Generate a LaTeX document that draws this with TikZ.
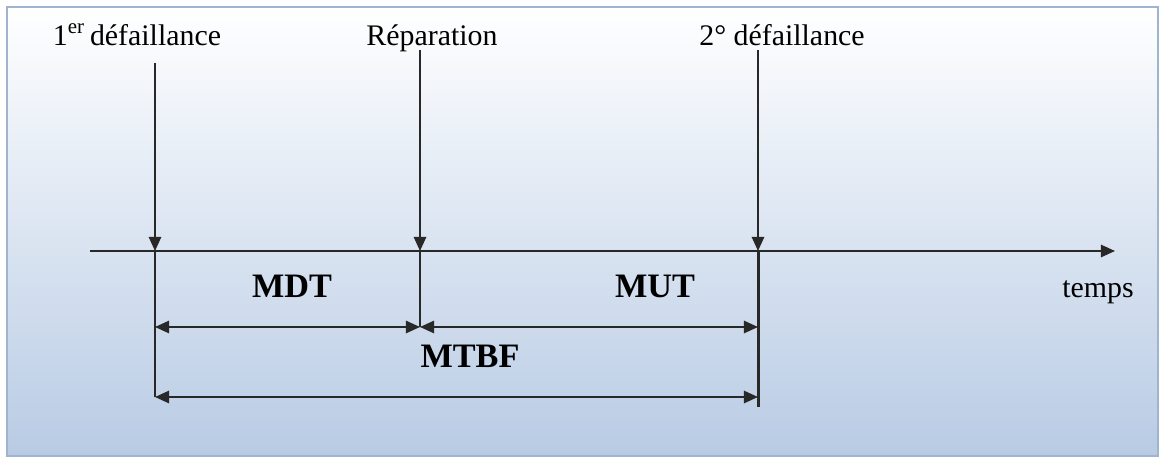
\documentclass[tikz,border=0pt]{standalone}
\usepackage{fontspec}
\setmainfont{Liberation Serif}
\usepackage{tikz}
\usetikzlibrary{arrows.meta,positioning}
\definecolor{cadre}{RGB}{160,180,205}
\definecolor{fondhaut}{RGB}{255,255,255}
\definecolor{fondbas}{RGB}{184,203,228}
\definecolor{trait}{RGB}{40,40,40}

\begin{document}
\begin{tikzpicture}[x=0.02cm,y=-0.02cm,
  axe/.style={line width=1.1pt,trait},
  fleche/.style={axe,-{Triangle[length=8pt,width=7pt]}},
  cote/.style={axe,{Triangle[length=8pt,width=7pt]}-{Triangle[length=8pt,width=7pt]}},
  evt/.style={font=\fontsize{17}{20}\selectfont,anchor=base},
  duree/.style={font=\fontsize{19.5}{22}\selectfont\bfseries}]
  \useasboundingbox (0,0) rectangle (1167,460);
  \shade[top color=fondhaut,bottom color=fondbas,draw=cadre,line width=1.2pt] (7,7) rectangle (1158,456);
  % axe des temps
  \coordinate (t0) at (90,251); \coordinate (tfin) at (1115,251);
  \draw[fleche] (t0) -- (tfin);
  \foreach \n/\x/\h in {d1/155/63,rep/420/50,d2/758/50} {\coordinate (\n) at (\x,251); \coordinate (\n haut) at (\x,\h); \draw[fleche] (\n haut) -- (\n);}
  % evenements
  \node[evt] (lbd1) at (137,45) {1\textsuperscript{er}\,défaillance};
  \node[evt] (lbrep) at (432,45) {Réparation};
  \node[evt] (lbd2) at (782,45) {2° défaillance};
  \coordinate (d1bas) at (155,397); \coordinate (repbas) at (420,327); \coordinate (d2bas) at (758,407);
  \draw[axe] (d1) -- (d1bas); \draw[axe] (rep) -- (repbas); \draw[axe,line width=1.7pt] (d2) -- (d2bas);
  % durees
  \draw[cote] (d1 |- repbas) -- (repbas);
  \draw[cote] (repbas) -- (d2 |- repbas);
  \draw[cote] (d1bas) -- (d2 |- d1bas);
  \node[duree] (mdt) at (292,286) {MDT};
  \node[duree] (mut) at (655,286) {MUT};
  \node[duree] (mtbf) at (470,356) {MTBF};
  \node[evt] (temps) at (1098,297) {temps};
\end{tikzpicture}
\end{document}
